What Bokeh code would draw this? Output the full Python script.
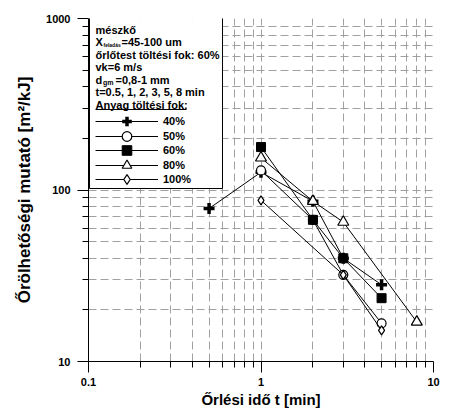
from bokeh.plotting import figure
from bokeh.models import Label, BoxAnnotation, Legend, LegendItem, FixedTicker
from bokeh.embed import file_html
from bokeh.resources import INLINE

# ---- data ----
t_40 = [0.5, 1, 2, 3, 5]
v_40 = [78, 127, 86, 40, 28]
t_50 = [1, 2, 3, 5]
v_50 = [130, 67, 32, 16.7]
t_60 = [1, 2, 3, 5]
v_60 = [178, 67, 40, 23.4]
t_80 = [1, 2, 3, 8]
v_80 = [154, 86, 65, 17]
t_100 = [1, 3, 5]
v_100 = [87, 32, 15.2]
labels = ["40%", "50%", "60%", "80%", "100%"]

x_major = [0.1, 1, 10]
x_minor = [0.2, 0.3, 0.4, 0.5, 0.6, 0.7, 0.8, 0.9, 2, 3, 4, 5, 6, 7, 8, 9]
y_major = [10, 100, 1000]
y_minor = [20, 30, 40, 50, 60, 70, 80, 90, 200, 300, 400, 500, 600, 700, 800, 900]

FONT = "Liberation Sans"

p = figure(x_axis_type="log", y_axis_type="log", x_range=(0.1, 10), y_range=(10, 1000),
           frame_width=345, frame_height=343, output_backend="svg", toolbar_location=None,
           min_border_left=88, min_border_right=12, min_border_top=18, min_border_bottom=39)
p.outline_line_color = None
p.background_fill_color = "white"

for ax, maj, mnr in ((p.xaxis[0], x_major, x_minor), (p.yaxis[0], y_major, y_minor)):
    ax.ticker = FixedTicker(ticks=maj, minor_ticks=mnr)
    ax.axis_line_color = "black"
    ax.major_tick_line_color = "black"
    ax.minor_tick_line_color = "black"
    ax.major_tick_in = 0
    ax.major_tick_out = 11
    ax.minor_tick_in = 0
    ax.minor_tick_out = 6
    ax.major_label_text_font = FONT
    ax.major_label_text_font_style = "bold"
    ax.major_label_text_font_size = "11px"
    ax.major_label_text_color = "black"
    ax.axis_label_text_font = FONT
    ax.axis_label_text_font_style = "bold"
    ax.axis_label_text_color = "black"

p.xaxis.axis_label_text_font_size = "15px"
p.yaxis.axis_label_text_font_size = "17px"
p.xaxis.major_label_overrides = {0.1: "0.1", 1: "1", 10: "10"}
p.yaxis.major_label_overrides = {10: "10", 100: "100", 1000: "1000"}
p.xaxis.axis_label = "Őrlési idő t [min]"
p.yaxis.axis_label = "Őrölhetőségi mutató [m²/kJ]"
p.xaxis.major_label_standoff = 5
p.yaxis.major_label_standoff = 7
p.xaxis.axis_label_standoff = 2
p.yaxis.axis_label_standoff = 9

for g in (p.xgrid[0], p.ygrid[0]):
    g.grid_line_color = "#a0a0a0"
    g.grid_line_dash = "8 4"
    g.grid_line_width = 1
    g.minor_grid_line_color = "#a0a0a0"
    g.minor_grid_line_dash = "8 4"
    g.minor_grid_line_width = 1

series = [
    (t_40, v_40, dict(marker="cross", size=11, line_width=3.5, fill_color="black")),
    (t_50, v_50, dict(marker="circle", size=9, line_width=1.2, fill_color="white")),
    (t_60, v_60, dict(marker="square", size=9, line_width=1, fill_color="black")),
    (t_80, v_80, dict(marker="triangle", size=11, line_width=1.2, fill_color="white")),
    (t_100, v_100, dict(marker="diamond", size=9, line_width=1.2, fill_color="white")),
]
items = []
for (t, v, st), lab in zip(series, labels):
    lr = p.line(t, v, line_color="black", line_width=1)
    sr = p.scatter(t, v, line_color="black", **st)
    items.append(LegendItem(label=lab, renderers=[lr, sr]))

# info box
box = BoxAnnotation(left=1, right=134, bottom=173, top=346,
                    left_units="screen", right_units="screen",
                    bottom_units="screen", top_units="screen",
                    fill_color="white", fill_alpha=1, line_color="black",
                    line_alpha=1, line_width=1)
p.add_layout(box)

def lab(x, y, text, size="11px"):
    p.add_layout(Label(x=x, y=y, x_units="screen", y_units="screen", text=text,
                       text_font=FONT, text_font_style="bold", text_font_size=size,
                       text_color="black", text_baseline="middle"))

ys = [331.7, 319.2, 306.7, 294.2, 281.7, 269.2, 256.7]
lab(7, ys[0], "mészkő")
lab(7, ys[1], "X")
lab(15, ys[1] - 3, "feladás", "5px")
lab(33, ys[1], "=45-100 um")
lab(7, ys[2], "őrlőtest töltési fok: 60%")
lab(7, ys[3], "vk=6 m/s")
lab(7, ys[4], "d")
lab(14.5, ys[4] - 3, "gm", "7px")
lab(27, ys[4], "=0,8-1 mm")
lab(7, ys[5], "t=0.5, 1, 2, 3, 5, 8 min")
lab(7, ys[6], "Anyag töltési fok:")
p.add_layout(BoxAnnotation(left=7, right=98, bottom=251.5, top=252.5,
                           left_units="screen", right_units="screen",
                           bottom_units="screen", top_units="screen",
                           fill_color="black", fill_alpha=1, line_alpha=0))

# one single-item legend per row so that rows can be packed tightly
row_bottoms = [228, 213.5, 199, 184.5, 170]
for item, yb in zip(items, row_bottoms):
    leg = Legend(items=[item], location=(7, yb), padding=0, margin=0, spacing=0,
                 glyph_width=63, glyph_height=24, label_height=24, label_standoff=5,
                 border_line_color=None, background_fill_alpha=0,
                 label_text_font=FONT, label_text_font_style="bold",
                 label_text_font_size="11px", label_text_color="black")
    p.add_layout(leg)

open("out.html", "w").write(file_html(p, INLINE))
